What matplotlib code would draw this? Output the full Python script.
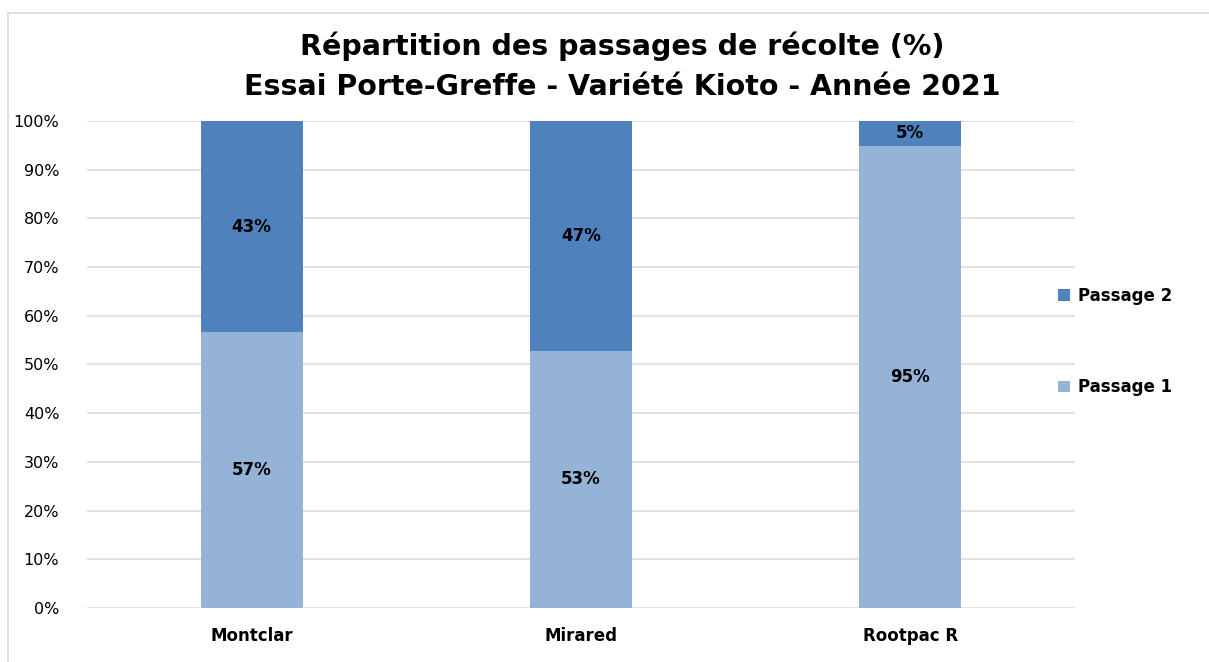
import numpy as np
from matplotlib import pyplot as plt
from matplotlib import font_manager
from matplotlib.patches import Rectangle
from matplotlib.ticker import PercentFormatter

# fonts: narrow face for the title if available
names = {f.name for f in font_manager.fontManager.ttflist}
title_font = 'Liberation Sans Narrow' if 'Liberation Sans Narrow' in names else 'DejaVu Sans'
plt.rcParams['font.family'] = 'DejaVu Sans'

categories = ['Montclar', 'Mirared', 'Rootpac R']
passage1 = [56.6, 52.8, 94.9]
passage2 = [43.4, 47.2, 5.1]
labels1 = ['57%', '53%', '95%']
labels2 = ['43%', '47%', '5%']

col1 = '#95B3D7'
col2 = '#4F81BD'

fig = plt.figure(figsize=(12.09, 6.62), dpi=100)
ax = fig.add_axes([0.072, 0.0816, 0.817, 0.7356])

x = np.arange(len(categories))
bw = 0.31
b1 = ax.bar(x, passage1, bw, color=col1, label='Passage 1', zorder=2)
b2 = ax.bar(x, passage2, bw, bottom=passage1, color=col2, label='Passage 2', zorder=2)

ax.bar_label(b1, labels=labels1, label_type='center', fontsize=12, fontweight='bold')
ax.bar_label(b2, labels=labels2, label_type='center', fontsize=12, fontweight='bold')

ax.set_xlim(-0.5, 2.5)
ax.set_ylim(0, 100)
ax.set_yticks(np.arange(0, 101, 10))
ax.yaxis.set_major_formatter(PercentFormatter(decimals=0))
ax.set_xticks(x)
ax.set_xticklabels(categories, fontsize=12, fontweight='bold')
ax.tick_params(axis='y', labelsize=11.5, length=0, pad=20)
ax.tick_params(axis='x', length=0, pad=14)
ax.grid(axis='y', color='#DDDDDD', linewidth=1.2, zorder=0)
for s in ax.spines.values():
    s.set_visible(False)

fig.text(0.515, 0.93, 'Répartition des passages de récolte (%)', ha='center', va='center',
         fontsize=20.5, fontweight='bold', family=title_font)
fig.text(0.515, 0.868, 'Essai Porte-Greffe - Variété Kioto - Année 2021', ha='center', va='center',
         fontsize=20.5, fontweight='bold', family=title_font)

handles = [b2, b1]
leg = fig.legend(handles, ['Passage 2', 'Passage 1'], loc='center left', bbox_to_anchor=(0.863, 0.484),
                 frameon=False, prop={'size': 12, 'weight': 'bold'}, handlelength=0.7, handleheight=0.7,
                 labelspacing=4.4, handletextpad=0.5)

# outer chart border
fig.patches.append(Rectangle((0.007, -0.01), 1.0, 0.99, transform=fig.transFigure,
                             fill=False, edgecolor='#D9D9D9', linewidth=1.2))

fig.savefig('out.png', dpi=100)
